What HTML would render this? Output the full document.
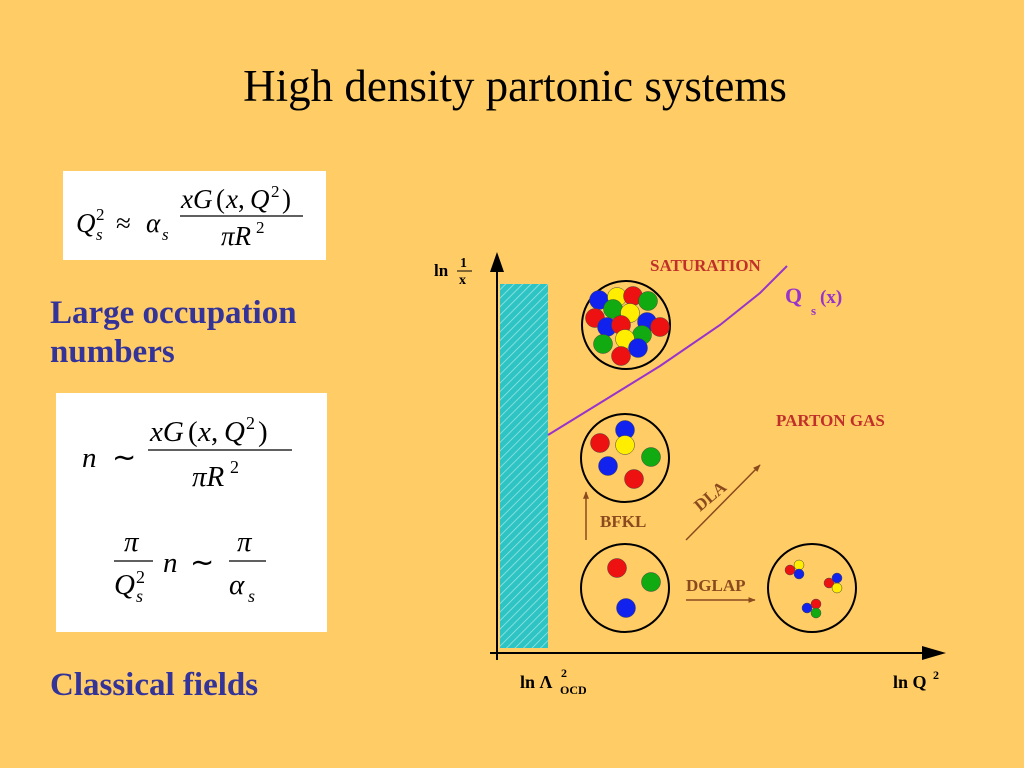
<!DOCTYPE html>
<html><head><meta charset="utf-8"><style>
html,body{margin:0;padding:0;background:#FFCC66;}
svg{display:block}
.ser{font-family:"Liberation Serif",serif}
.it{font-family:"Liberation Serif",serif;font-style:italic}
.lbl{font-family:"Liberation Serif",serif;font-weight:bold}
</style></head><body>
<svg width="1024" height="768" viewBox="0 0 1024 768" xmlns="http://www.w3.org/2000/svg">
<defs>
<pattern id="hatch" width="6" height="6" patternUnits="userSpaceOnUse" patternTransform="rotate(45)">
<rect width="6" height="6" fill="#2EC4C4"/><line x1="0" y1="0" x2="0" y2="6" stroke="#9FE6E6" stroke-width="1.5"/>
</pattern>
<marker id="ah" viewBox="0 0 10 10" refX="9" refY="5" markerWidth="5" markerHeight="5" orient="auto"><path d="M0,1 L10,5 L0,9 Z" fill="#8B4A1E"/></marker>
</defs>
<rect width="1024" height="768" fill="#FFCC66"/>
<text x="515" y="101" text-anchor="middle" class="ser" font-size="45" fill="#000">High density partonic systems</text>

<g>
<rect x="63" y="171" width="263" height="89" fill="#fff"/>
<text x="76" y="232" class="it" font-size="27">Q</text>
<text x="96" y="220" class="ser" font-size="17">2</text>
<text x="96" y="240" class="it" font-size="17">s</text>
<text x="116" y="232" class="ser" font-size="27">≈</text>
<text x="146" y="232" class="it" font-size="27">α</text>
<text x="162" y="240" class="it" font-size="17">s</text>
<text x="181" y="208" class="it" font-size="27">xG</text><text x="216" y="208" class="ser" font-size="27">(</text><text x="226" y="208" class="it" font-size="27">x</text><text x="238" y="208" class="ser" font-size="27">,</text><text x="250" y="208" class="it" font-size="27">Q</text><text x="271" y="197" class="ser" font-size="17">2</text><text x="282" y="208" class="ser" font-size="27">)</text>
<line x1="180" y1="216" x2="303" y2="216" stroke="#000" stroke-width="1.3"/>
<text x="221" y="245" class="it" font-size="27">πR</text><text x="256" y="233" class="ser" font-size="17">2</text>
</g>

<text x="50" y="323" class="lbl" font-size="33" fill="#333399">Large occupation</text>
<text x="50" y="362" class="lbl" font-size="33" fill="#333399">numbers</text>

<g>
<rect x="56" y="393" width="271" height="239" fill="#fff"/>
<text x="82" y="467" class="it" font-size="29">n</text>
<text x="112" y="467" class="ser" font-size="29">∼</text>
<text x="150" y="441" class="it" font-size="29">xG</text><text x="188" y="441" class="ser" font-size="29">(</text><text x="198" y="441" class="it" font-size="29">x</text><text x="211" y="441" class="ser" font-size="29">,</text><text x="224" y="441" class="it" font-size="29">Q</text><text x="246" y="429" class="ser" font-size="18">2</text><text x="258" y="441" class="ser" font-size="29">)</text>
<line x1="148" y1="450" x2="292" y2="450" stroke="#000" stroke-width="1.3"/>
<text x="192" y="486" class="it" font-size="29">πR</text><text x="230" y="473" class="ser" font-size="18">2</text>
<text x="124" y="551" class="it" font-size="29">π</text>
<line x1="114" y1="561" x2="153" y2="561" stroke="#000" stroke-width="1.3"/>
<text x="114" y="594" class="it" font-size="29">Q</text><text x="136" y="583" class="ser" font-size="18">2</text><text x="136" y="602" class="it" font-size="18">s</text>
<text x="163" y="572" class="it" font-size="29">n</text>
<text x="190" y="572" class="ser" font-size="29">∼</text>
<text x="237" y="551" class="it" font-size="29">π</text>
<line x1="229" y1="561" x2="266" y2="561" stroke="#000" stroke-width="1.3"/>
<text x="229" y="594" class="it" font-size="29">α</text><text x="248" y="602" class="it" font-size="18">s</text>
</g>

<text x="50" y="695" class="lbl" font-size="33" fill="#333399">Classical fields</text>

<g>
<rect x="500" y="284" width="48" height="364" fill="url(#hatch)"/>
<line x1="497" y1="660" x2="497" y2="270" stroke="#000" stroke-width="2"/>
<path d="M490,272 L497,252 L504,272 Z" fill="#000"/>
<line x1="490" y1="653" x2="925" y2="653" stroke="#000" stroke-width="2"/>
<path d="M922,646 L946,653 L922,660 Z" fill="#000"/>
<g>
<text x="434" y="276" class="lbl" font-size="17">ln</text>
<text x="460" y="267" class="lbl" font-size="14">1</text>
<line x1="457" y1="271" x2="472" y2="271" stroke="#000" stroke-width="1"/>
<text x="459" y="284" class="lbl" font-size="14">x</text>
</g>
<g>
<text x="520" y="688" class="lbl" font-size="18">ln Λ</text><text x="561" y="677" class="lbl" font-size="12">2</text><text x="560" y="694" class="lbl" font-size="12">OCD</text>
</g>
<g>
<text x="893" y="688" class="lbl" font-size="18">ln Q</text><text x="933" y="679" class="lbl" font-size="12">2</text>
</g>
<path id="qs" fill="none" stroke="#9933CC" stroke-width="2"/>
<text x="785" y="303" class="lbl" font-size="22" fill="#9933CC">Q</text>
<text x="811" y="315" class="lbl" font-size="13" fill="#9933CC">s</text>
<text x="820" y="303" class="lbl" font-size="19" fill="#9933CC">(x)</text>
<text x="650" y="271" class="lbl" font-size="17" fill="#C0302A">SATURATION</text>
<text x="776" y="426" class="lbl" font-size="17" fill="#C0302A">PARTON GAS</text>
<g id="circles"></g>
<line x1="586" y1="540" x2="586" y2="492" stroke="#8B4A1E" stroke-width="1.5" marker-end="url(#ah)"/>
<text x="600" y="527" class="lbl" font-size="17" fill="#8B4A1E">BFKL</text>
<line x1="686" y1="540" x2="760" y2="465" stroke="#8B4A1E" stroke-width="1.5" marker-end="url(#ah)"/>
<text x="700" y="512" class="lbl" font-size="17" fill="#8B4A1E" transform="rotate(-40 700 512)">DLA</text>
<line x1="686" y1="600" x2="755" y2="600" stroke="#8B4A1E" stroke-width="1.5" marker-end="url(#ah)"/>
<text x="686" y="591" class="lbl" font-size="17" fill="#8B4A1E">DGLAP</text>
</g>
</svg>
<script>
const qsCurveX = [548, 600, 660, 720, 760, 787];
const qsCurveY = [435, 403, 366, 325, 293, 266];
const circleCenters = [[626,325],[625,458],[625,588],[812,588]];
const dotColors = {r:"#EE1111",g:"#11AA11",b:"#1122EE",y:"#FFEE00"};
const satDots = [["b",599,300],["y",617,297],["r",633,296],["g",648,301],["g",613,309],["y",630,313],["r",595,318],["b",607,327],["r",621,325],["b",647,322],["r",660,327],["g",642,335],["g",603,344],["y",625,339],["b",638,348],["r",621,356]];
const bfklDots = [["b",625,430],["y",625,445],["r",600,443],["g",651,457],["b",608,466],["r",634,479]];
const dglapDots = [["r",617,568],["g",651,582],["b",626,608]];
const smallDots = [["r",790,570],["y",799,565],["b",799,574],["r",829,583],["b",837,578],["y",837,588],["b",807,608],["r",816,604],["g",816,613]];
const NS="http://www.w3.org/2000/svg";
let d="M"+qsCurveX[0]+","+qsCurveY[0];
for(let i=1;i<qsCurveX.length;i++){d+=" L"+qsCurveX[i]+","+qsCurveY[i];}
document.getElementById("qs").setAttribute("d",d);
const g=document.getElementById("circles");
circleCenters.forEach(function(c){
  const e=document.createElementNS(NS,"circle");
  e.setAttribute("cx",c[0]);e.setAttribute("cy",c[1]);e.setAttribute("r",44);
  e.setAttribute("fill","none");e.setAttribute("stroke","#000");e.setAttribute("stroke-width","2");
  
  
  g.appendChild(e);
});
function dots(arr,r){arr.forEach(function(p){
  const e=document.createElementNS(NS,"circle");
  e.setAttribute("cx",p[1]);e.setAttribute("cy",p[2]);e.setAttribute("r",r);
  e.setAttribute("fill",dotColors[p[0]]);e.setAttribute("stroke","#444");e.setAttribute("stroke-width","0.5");
  
  
  g.appendChild(e);
});}
dots(satDots,9.5);dots(bfklDots,9.5);dots(dglapDots,9.5);dots(smallDots,5);
</script>
</body></html>
